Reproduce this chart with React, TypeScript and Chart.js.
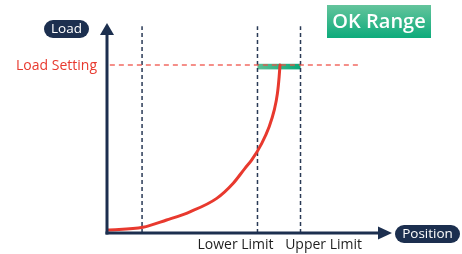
import React, { useEffect, useRef } from "react";
import { Chart, registerables } from "chart.js";

Chart.register(...registerables);

// Curve: position vs load
const positions = [0, 12.6, 20.9, 29.1, 38.5, 44.3, 48.4, 50.8, 54.3, 56.9, 58.7, 59.8, 60.4, 60.7];
const loads = [1.4, 2.7, 6.2, 10.1, 16.5, 23.7, 30.8, 34.8, 42.7, 50.6, 58.6, 66.5, 74.4, 80];

// Reference values
const startMark = 12.3;
const lowerLimit = 52.8;
const upperLimit = 67.9;
const loadSetting = 80;
const guideTop = 98.5;
const settingLineEnd = 89;

// Axis tick labels
const tickPositions = [45.1, 76.0];
const tickLabels = ["Lower Limit", "Upper Limit"];

const FONT = "'Open Sans', 'Noto Sans', sans-serif";
const NAVY = "#1c2f4f";
const RED = "#e8392e";

function pill(ctx: CanvasRenderingContext2D, x: number, y: number, w: number, h: number, text: string) {
  ctx.save();
  ctx.fillStyle = NAVY;
  ctx.beginPath();
  (ctx as any).roundRect(x, y, w, h, h / 2);
  ctx.fill();
  ctx.fillStyle = "#ffffff";
  ctx.font = `500 13.5px ${FONT}`;
  ctx.textAlign = "center";
  ctx.textBaseline = "middle";
  ctx.fillText(text, x + w / 2, y + h / 2 + 0.5);
  ctx.restore();
}

const decorPlugin = {
  id: "decor",
  beforeDatasetsDraw(chart: any) {
    const { ctx, scales } = chart;
    const x = scales.x;
    const y = scales.y;
    const x0 = x.getPixelForValue(lowerLimit);
    const x1 = x.getPixelForValue(upperLimit);
    const yp = y.getPixelForValue(loadSetting);
    ctx.save();
    const g = ctx.createLinearGradient(x0, 0, x1, 0);
    g.addColorStop(0, "#5cbf95");
    g.addColorStop(1, "#0aa878");
    ctx.fillStyle = g;
    ctx.fillRect(x0, yp - 1.2, x1 - x0, 5.6);
    ctx.restore();
  },
  afterDraw(chart: any) {
    const { ctx, chartArea, scales } = chart;
    const y = scales.y;
    const left = chartArea.left;
    const bottom = chartArea.bottom;
    const top = chartArea.top;
    const right = chartArea.right;
    ctx.save();
    ctx.strokeStyle = NAVY;
    ctx.fillStyle = NAVY;
    ctx.lineWidth = 3;
    // y axis
    ctx.beginPath();
    ctx.moveTo(left, bottom + 1.5);
    ctx.lineTo(left, top + 8);
    ctx.stroke();
    ctx.beginPath();
    ctx.moveTo(left, top);
    ctx.lineTo(left - 7, top + 12);
    ctx.lineTo(left + 7, top + 12);
    ctx.closePath();
    ctx.fill();
    // x axis
    ctx.beginPath();
    ctx.moveTo(left - 1.5, bottom);
    ctx.lineTo(right - 8, bottom);
    ctx.stroke();
    ctx.beginPath();
    ctx.moveTo(right, bottom);
    ctx.lineTo(right - 14, bottom - 6.5);
    ctx.lineTo(right - 14, bottom + 6.5);
    ctx.closePath();
    ctx.fill();
    ctx.restore();

    pill(ctx, 44, 20, 45, 18, "Load");
    pill(ctx, 395, 225, 65, 18, "Position");

    // Load Setting label
    ctx.save();
    ctx.fillStyle = RED;
    ctx.font = `14px ${FONT}`;
    ctx.textAlign = "right";
    ctx.textBaseline = "middle";
    ctx.fillText("Load Setting", left - 10, y.getPixelForValue(loadSetting) + 1.5);
    ctx.restore();

    // OK Range box
    ctx.save();
    const bx = 327, by = 5, bw = 104, bh = 33;
    const g = ctx.createLinearGradient(0, by, 0, by + bh);
    g.addColorStop(0, "#64c49c");
    g.addColorStop(1, "#0dab7b");
    ctx.fillStyle = g;
    ctx.fillRect(bx, by, bw, bh);
    ctx.fillStyle = "#ffffff";
    ctx.font = `600 20px ${FONT}`;
    ctx.textAlign = "center";
    ctx.textBaseline = "middle";
    ctx.fillText("OK Range", bx + bw / 2, by + bh / 2 + 1);
    ctx.restore();
  },
};

export default function App() {
  const ref = useRef<HTMLCanvasElement | null>(null);
  useEffect(() => {
    if (!ref.current) return;
    const guide = (v: number) => ({
      data: [
        { x: v, y: 0 },
        { x: v, y: guideTop },
      ],
      borderColor: "#2a3a56",
      borderWidth: 1.5,
      borderDash: [4, 3],
      pointRadius: 0,
      tension: 0,
    });
    const chart = new Chart(ref.current, {
      type: "line",
      data: {
        datasets: [
          {
            data: positions.map((p, i) => ({ x: p, y: loads[i] })),
            borderColor: RED,
            borderWidth: 3,
            pointRadius: 0,
            cubicInterpolationMode: "monotone",
            borderCapStyle: "round",
          } as any,
          {
            data: [
              { x: 1, y: loadSetting },
              { x: settingLineEnd, y: loadSetting },
            ],
            borderColor: "rgba(238,80,70,0.85)",
            borderWidth: 1.3,
            borderDash: [5, 4],
            pointRadius: 0,
          },
          guide(startMark),
          guide(lowerLimit),
          guide(upperLimit),
        ],
      },
      options: {
        responsive: false,
        animation: false,
        layout: { padding: { left: 107, right: 70, top: 23, bottom: 0 } },
        plugins: { legend: { display: false }, tooltip: { enabled: false } },
        scales: {
          x: {
            type: "linear",
            min: 0,
            max: 100,
            grid: { display: false, drawTicks: false },
            border: { display: false },
            afterBuildTicks: (scale: any) => {
              scale.ticks = tickPositions.map((v) => ({ value: v }));
            },
            afterFit: (scale: any) => {
              scale.height = 21;
            },
            ticks: {
              autoSkip: false,
              maxRotation: 0,
              padding: 4,
              color: "#1e1e1e",
              font: { family: FONT, size: 14 },
              callback: (_v: any, i: number) => tickLabels[i],
            },
          },
          y: {
            type: "linear",
            min: 0,
            max: 100,
            display: false,
          },
        },
      },
      plugins: [decorPlugin],
    });
    return () => chart.destroy();
  }, []);
  return (
    <div style={{ position: "absolute", left: 0, top: 0, width: 462, height: 254, background: "#fff" }}>
      <canvas ref={ref} width={462} height={254} style={{ width: 462, height: 254, display: "block" }} />
    </div>
  );
}
